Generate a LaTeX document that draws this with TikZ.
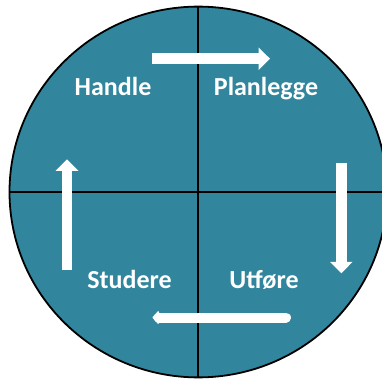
\documentclass[tikz,border=0pt]{standalone}
\usepackage{fontspec}
\setmainfont{Carlito}
\usetikzlibrary{arrows.meta}
\definecolor{teal}{HTML}{31859C}
\tikzset{
  lbl/.style={text=white, font=\bfseries\fontsize{26}{30}\selectfont, anchor=base, inner sep=0pt},
  bigarrow/.style={draw=white, line width=10.5pt, -{Triangle[width=22pt,length=11.5pt]}},
  divider/.style={draw=black, line width=2pt}
}
\begin{document}
\begin{tikzpicture}[x=1pt,y=-1pt]
\useasboundingbox (0,0) rectangle (382,379);
\clip (0,0) rectangle (382,379);
\coordinate (c) at (198.3,192);
\fill[teal] (c) ellipse [x radius=188.8, y radius=185.4];
\coordinate (top) at (198.3,6.6);
\coordinate (bot) at (198.3,377.4);
\coordinate (lft) at (9.5,192);
\coordinate (rgt) at (387.1,192);
\draw[divider] (top) -- (bot);
\draw[divider] (lft) -- (rgt);
\draw[black, line width=1.8pt] (c) ellipse [x radius=188.8, y radius=185.4];
\node[lbl] (handle) at (113,96) {Handle};
\node[lbl] (plan) at (266,96) {Planlegge};
\node[lbl] (stud) at (129.5,288) {Studere};
\node[lbl] (utf) at (264,288) {Utføre};
\coordinate (a1s) at (151.7,58.7);
\coordinate (a1e) at (270,58.7);
\coordinate (a2s) at (341.3,162.7);
\coordinate (a2e) at (341.3,273.3);
\coordinate (a3s) at (286,317.5);
\coordinate (a3e) at (152.5,317.5);
\coordinate (a4s) at (67,270);
\coordinate (a4e) at (67,159.3);
\draw[bigarrow] (a1s) -- (a1e);
\draw[bigarrow] (a2s) -- (a2e);
\draw[bigarrow] (a4s) -- (a4e);
\draw[draw=white, line width=10pt, line cap=round, -{Triangle[width=15pt,length=7pt,round]}] (a3s) -- (a3e);
\end{tikzpicture}
\end{document}
